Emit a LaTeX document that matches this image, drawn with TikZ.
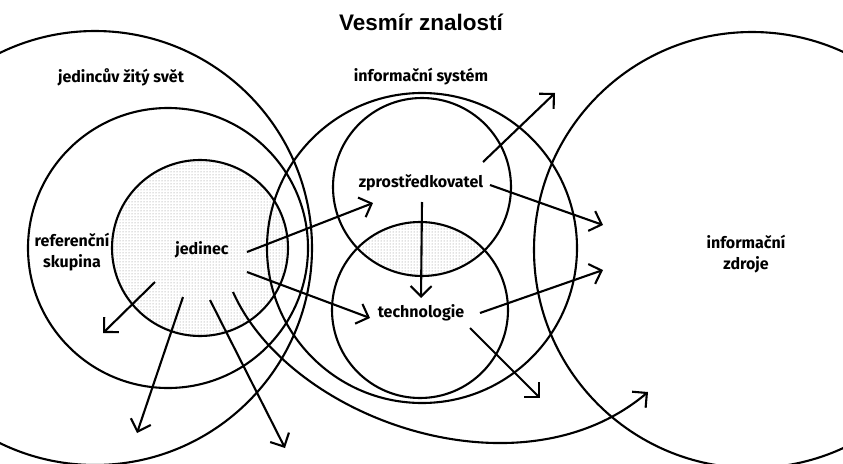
\documentclass[tikz,border=0pt]{standalone}
\usepackage{fontspec}
\setmainfont{Fira Sans}
\newfontfamily\titlefont{Liberation Sans}
\usetikzlibrary{arrows.meta,patterns}

\begin{document}
\begin{tikzpicture}[
		x=1pt, y=-1pt, line join=miter,
		ring/.style={line width=2.1pt},
		dotfill/.style={pattern=dots, pattern color=black!50},
		lbl/.style={font=\bfseries\fontsize{16}{21}\selectfont, align=center, inner sep=2pt},
		arr/.style={line width=2.1pt, -{Straight Barb[length=10.5pt, width=21pt]}},
		]
		\useasboundingbox (0,0) rectangle (843,463);
		\clip (0,0) rectangle (843,463);
		
		% 1. TECKOVANÉ PLOCHY
		\fill[dotfill] (200,248) circle (88pt);
		\begin{scope}
			\clip (422,187) circle (89pt);
			\fill[dotfill] (420,310) circle (88pt);
		\end{scope}
		
		% 2. KRUHY
		\draw[ring] (95,248) circle (217pt);   % zity svet
		\draw[ring] (168,248) circle (140pt);  % referencni skupina
		\draw[ring] (200,248) circle (88pt);   % jedinec
		\draw[ring] (422,248) circle (155pt);  % informacni system
		\draw[ring] (422,187) circle (89pt);   % zprostredkovatel
		\draw[ring] (420,310) circle (88pt);   % technologie
		\draw[ring] (752,250) circle (218pt);  % informacni zdroje
		
		% 3. POPISKY
		\node[font=\titlefont\bfseries\fontsize{22.5}{26}\selectfont] (title) at (421,22) {Vesmír znalostí};
		\node[lbl] (world) at (121,77) {jedincův žitý svět};
		\node[lbl] (infosys) at (421,77) {informační systém};
		\node[lbl] (refgroup) at (72,252) {referenční\\skupina};
		\node[lbl] (indiv) at (202,250) {jedinec};
		\node[lbl] (broker) at (421,183) {zprostředkovatel};
		\node[lbl] (tech) at (421,313) {technologie};
		\node[lbl] (sources) at (746,254) {informační\\zdroje};
		
		% 4. KONCE SIPEK
		\coordinate (indivE) at (247,252);
		\coordinate (indivSE) at (247,272);
		\coordinate (indivSW) at (155,282);
		\coordinate (indivS) at (183,297);
		\coordinate (indivS2) at (210,300);
		\coordinate (indivS3) at (233,292);
		\coordinate (brokerNE) at (483,162);
		\coordinate (brokerE) at (490,185);
		\coordinate (brokerS) at (422,202);
		\coordinate (techE) at (480,313);
		\coordinate (techSE) at (470,328);
		
		\coordinate (toBroker) at (373,203);
		\coordinate (toTech) at (370,318);
		\coordinate (outSW) at (103,333);
		\coordinate (outS) at (137,433);
		\coordinate (outS2) at (285,448);
		\coordinate (outLow) at (648,392);
		\coordinate (outTop) at (555,93);
		\coordinate (toSrcA) at (603,225);
		\coordinate (toTechB) at (421,298);
		\coordinate (toSrcB) at (603,270);
		\coordinate (outMid) at (540,398);
		
		% 5. SIPKY
		\draw[arr] (indivE) -- (toBroker);
		\draw[arr] (indivSE) -- (toTech);
		\draw[arr] (indivSW) -- (outSW);
		\draw[arr] (indivS) -- (outS);
		\draw[arr] (indivS2) -- (outS2);
		\draw[arr] (indivS3) .. controls (290,420) and (520,500) .. (outLow);
		\draw[arr] (brokerNE) -- (outTop);
		\draw[arr] (brokerE) -- (toSrcA);
		\draw[arr] (brokerS) -- (toTechB);
		\draw[arr] (techE) -- (toSrcB);
		\draw[arr] (techSE) -- (outMid);
		
\end{tikzpicture}
\end{document}
